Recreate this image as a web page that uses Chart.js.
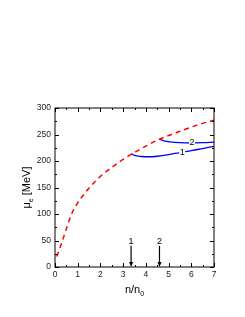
<!DOCTYPE html>
<html>
<head>
<meta charset="utf-8">
<script src="https://cdn.jsdelivr.net/npm/chart.js@4/dist/chart.umd.min.js"></script>
<style>
  html, body { margin: 0; padding: 0; background: #fff; overflow: hidden; }
  canvas { display: block; }
</style>
</head>
<body>
<canvas id="c" width="245" height="317"></canvas>
<script>
// red dashed curve (full range)
const redX = [0.08, 0.25, 0.5, 0.75, 1, 1.5, 2, 2.5, 3, 3.5, 4, 4.5, 5, 5.5, 6, 6.5, 7];
const redY = [20, 40, 72, 102, 121, 149, 171, 188, 203, 216, 228, 239, 248, 256, 264, 271, 277];
// blue curve 1
const blue1X = [3.35, 3.5, 3.8, 4.1, 4.5, 5, 5.5, 6, 6.5, 7];
const blue1Y = [214, 210.5, 208.5, 208, 209, 212, 216, 219.5, 223.5, 227.5];
// blue curve 2
const blue2X = [4.58, 4.8, 5.07, 5.5, 6, 6.5, 7];
const blue2Y = [241.5, 238, 236, 234.5, 234, 234.5, 235.5];
// curve labels
const curveLabels = ['1', '2'];
const curveLabelX = [5.6, 6.03];
const curveLabelY = [216.5, 235];
// arrows marking onset densities
const arrowX = [3.35, 4.6];
const arrowTop = 40;
const arrowLabelY = 49;
// axes
const xTicks = [0, 1, 2, 3, 4, 5, 6, 7];
const yTicks = [0, 50, 100, 150, 200, 250, 300];

const pts = (xs, ys) => xs.map((x, i) => ({ x: x, y: ys[i] }));
const font = "'Liberation Sans', Arial, sans-serif";

const framePlugin = {
  id: 'frame',
  afterDatasetsDraw(chart) {
    const { ctx, chartArea: a, scales } = chart;
    const xs = scales.x, ys = scales.y;
    ctx.save();
    ctx.strokeStyle = '#000';
    ctx.lineWidth = 1;
    ctx.strokeRect(a.left, a.top, a.right - a.left, a.bottom - a.top);
    // inner ticks on all sides
    ctx.beginPath();
    for (let v = 0; v <= 7.001; v += 0.5) {
      const px = Math.round(xs.getPixelForValue(v)) + 0.5;
      const len = (Math.abs(v - Math.round(v)) < 0.01) ? 4 : 2;
      ctx.moveTo(px, a.bottom); ctx.lineTo(px, a.bottom - len);
      ctx.moveTo(px, a.top); ctx.lineTo(px, a.top + len);
    }
    for (let v = 0; v <= 300.1; v += 25) {
      const py = Math.round(ys.getPixelForValue(v)) + 0.5;
      const len = (v % 50 === 0) ? 4 : 2;
      ctx.moveTo(a.left, py); ctx.lineTo(a.left + len, py);
      ctx.moveTo(a.right, py); ctx.lineTo(a.right - len, py);
    }
    ctx.stroke();

    // curve labels with white background
    ctx.font = '9px ' + font;
    ctx.textAlign = 'center';
    ctx.textBaseline = 'middle';
    curveLabels.forEach((t, i) => {
      const px = xs.getPixelForValue(curveLabelX[i]);
      const py = ys.getPixelForValue(curveLabelY[i]);
      ctx.fillStyle = '#fff';
      ctx.fillRect(px - 3, py - 4, 6, 8);
      ctx.fillStyle = '#000';
      ctx.fillText(t, px, py);
    });

    // arrows
    arrowX.forEach((x, i) => {
      const px = xs.getPixelForValue(x);
      const top = ys.getPixelForValue(arrowTop);
      const bot = ys.getPixelForValue(0);
      ctx.strokeStyle = '#000';
      ctx.lineWidth = 1.2;
      ctx.beginPath();
      ctx.moveTo(px, top); ctx.lineTo(px, bot - 3);
      ctx.stroke();
      ctx.fillStyle = '#000';
      ctx.beginPath();
      ctx.moveTo(px - 2, bot - 5); ctx.lineTo(px + 2, bot - 5); ctx.lineTo(px, bot);
      ctx.closePath();
      ctx.fill();
      ctx.fillText(String(i + 1), px, ys.getPixelForValue(arrowLabelY));
    });

    // axis titles
    ctx.fillStyle = '#000';
    ctx.font = '11px ' + font;
    ctx.textBaseline = 'alphabetic';
    const xt = 'n/n';
    const cx = (a.left + a.right) / 2;
    const w1 = ctx.measureText(xt).width;
    ctx.font = '7px ' + font;
    const w2 = ctx.measureText('0').width;
    const sx = cx - (w1 + w2) / 2;
    ctx.font = '11px ' + font;
    ctx.textAlign = 'left';
    ctx.fillText(xt, sx, 293);
    ctx.font = '7px ' + font;
    ctx.fillText('0', sx + w1, 296);

    ctx.translate(30, (a.top + a.bottom) / 2);
    ctx.rotate(-Math.PI / 2);
    ctx.font = '11px ' + font;
    const mu = '\u03bc', rest = ' [MeV]';
    const m1 = ctx.measureText(mu).width;
    const m3 = ctx.measureText(rest).width;
    ctx.font = '7px ' + font;
    const m2 = ctx.measureText('e').width;
    const st = -(m1 + m2 + m3) / 2;
    ctx.font = '11px ' + font;
    ctx.fillText(mu, st, 0);
    ctx.font = '7px ' + font;
    ctx.fillText('e', st + m1, 3);
    ctx.font = '11px ' + font;
    ctx.fillText(rest, st + m1 + m2, 0);
    ctx.restore();
  }
};

new Chart(document.getElementById('c'), {
  type: 'line',
  data: {
    datasets: [
      { data: pts(redX, redY), borderColor: '#ff0000', borderWidth: 1.5, borderDash: [5, 4], pointRadius: 0, tension: 0.4, cubicInterpolationMode: 'monotone' },
      { data: pts(blue1X, blue1Y), borderColor: '#0000ff', borderWidth: 1.3, pointRadius: 0, tension: 0.4, cubicInterpolationMode: 'monotone' },
      { data: pts(blue2X, blue2Y), borderColor: '#0000ff', borderWidth: 1.3, pointRadius: 0, tension: 0.4, cubicInterpolationMode: 'monotone' }
    ]
  },
  options: {
    responsive: false,
    animation: false,
    maintainAspectRatio: false,
    devicePixelRatio: 1,
    layout: { padding: { left: 0, top: 108, right: 31, bottom: 0 } },
    plugins: { legend: { display: false }, tooltip: { enabled: false } },
    scales: {
      x: {
        type: 'linear', min: 0, max: 7,
        grid: { display: false, drawTicks: false },
        border: { display: false },
        afterBuildTicks: s => { s.ticks = xTicks.map(v => ({ value: v })); },
        afterFit: s => { s.height = 50; },
        ticks: { color: '#222', padding: 3, font: { size: 8.5, family: font }, maxRotation: 0 }
      },
      y: {
        type: 'linear', min: 0, max: 300,
        grid: { display: false, drawTicks: false },
        border: { display: false },
        afterBuildTicks: s => { s.ticks = yTicks.map(v => ({ value: v })); },
        afterFit: s => { s.width = 55; },
        ticks: { color: '#222', padding: 4, font: { size: 8.5, family: font } }
      }
    }
  },
  plugins: [framePlugin]
});
</script>
</body>
</html>
